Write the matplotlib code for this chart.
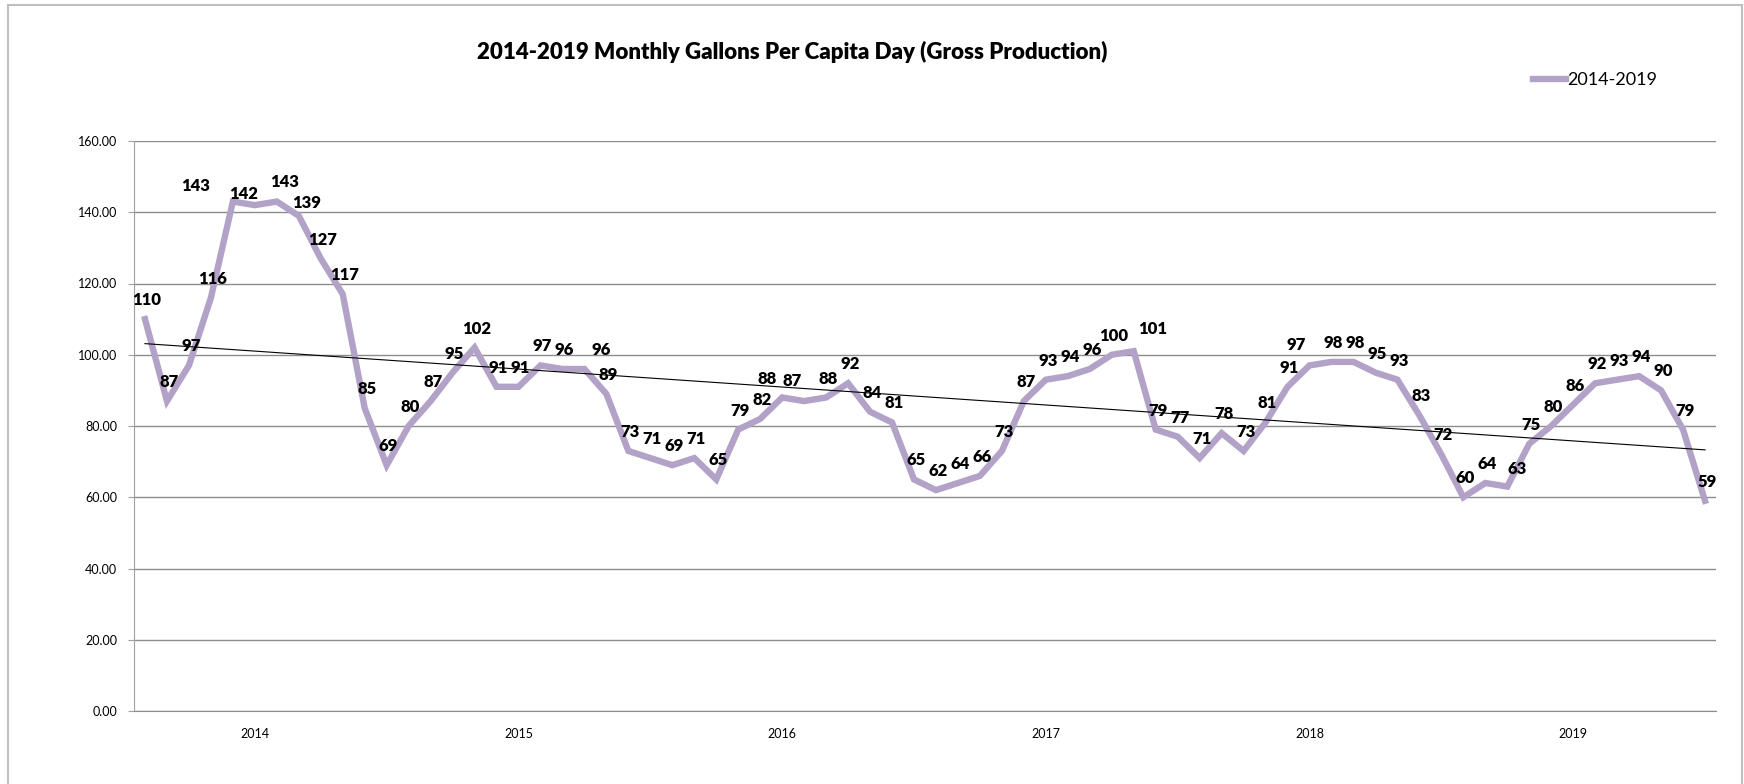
import numpy as np
import matplotlib
matplotlib.use("Agg")
import matplotlib.pyplot as plt
from matplotlib.patches import Rectangle

plt.rcParams['font.family'] = ['Lato', 'DejaVu Sans']

# monthly gallons per capita day, Jan 2014 .. Dec 2019
gpcd_2014 = [110, 87, 97, 116, 143, 142, 143, 139, 127, 117, 85, 69]
gpcd_2015 = [80, 87, 95, 102, 91, 91, 97, 96, 96, 89, 73, 71]
gpcd_2016 = [69, 71, 65, 79, 82, 88, 87, 88, 92, 84, 81, 65]
gpcd_2017 = [62, 64, 66, 73, 87, 93, 94, 96, 100, 101, 79, 77]
gpcd_2018 = [71, 78, 73, 81, 91, 97, 98, 98, 95, 93, 83, 72]
gpcd_2019 = [60, 64, 63, 75, 80, 86, 92, 93, 94, 90, 79, 59]
years = ["2014", "2015", "2016", "2017", "2018", "2019"]
series_name = "2014-2019"

values = gpcd_2014 + gpcd_2015 + gpcd_2016 + gpcd_2017 + gpcd_2018 + gpcd_2019
x = np.arange(len(values))

# label nudges (pixels) where the labels were moved by hand
label_nudge = {4: (-37, 16), 5: (-11, 11), 6: (8, 20), 7: (8, 13), 20: (17, 19),
               29: (-15, 18), 30: (-12, 20), 45: (19, 22), 53: (-13, 20), 62: (10, 18)}

fig = plt.figure(figsize=(17.44, 7.84), dpi=100)
ax = fig.add_axes([134/1744, 1 - 711/784, (1716-134)/1744, (711-141)/784])

line_color = '#B3A2C7'
ax.plot(x, values, color=line_color, lw=4.6, solid_joinstyle='miter', label=series_name, zorder=3)

# linear trendline
k, b = np.polyfit(x, values, 1)
ax.plot(x, k*x + b, color='black', lw=0.8, zorder=4)

for i, v in enumerate(values):
    dx, dy = label_nudge.get(i, (2, 19))
    ax.annotate(str(v), (x[i], v), xytext=(dx, dy), textcoords='offset pixels',
                ha='center', va='center', fontsize=12, fontweight='heavy', zorder=5)

ax.set_xlim(-0.5, len(values) - 0.5)
ax.set_ylim(0, 160)
ax.set_yticks(np.arange(0, 161, 20))
ax.set_yticklabels([f"{t:.2f}" for t in np.arange(0, 161, 20)])
ax.set_xticks([5 + 12*i for i in range(len(years))])
ax.set_xticklabels(years)
ax.tick_params(axis='x', length=0, labelsize=9, pad=12)
ax.tick_params(axis='y', length=4, color='#A0A0A0', labelsize=9, pad=8)
ax.grid(axis='y', color='#8C8C8C', lw=1)
ax.set_axisbelow(True)
for s in ['top', 'right']:
    ax.spines[s].set_visible(False)
ax.spines['left'].set_color('#A0A0A0')
ax.spines['bottom'].set_color('#8C8C8C')

fig.text(792/1744, 1 - 52/784, "2014-2019 Monthly Gallons Per Capita Day (Gross Production)",
         ha='center', va='center', fontsize=16, fontweight='heavy')

fig.legend(loc='center left', bbox_to_anchor=(1533/1744, 1 - 80/784), frameon=False,
           fontsize=13, handlelength=1.8, handletextpad=0.1, borderpad=0, borderaxespad=0)

fig.patches.append(Rectangle((8/1744, -0.1), (1742-8)/1744, 1.1 - 5/784, transform=fig.transFigure,
                             fill=False, edgecolor='#BFBFBF', lw=1.5))

fig.savefig("out.png", dpi=100)
